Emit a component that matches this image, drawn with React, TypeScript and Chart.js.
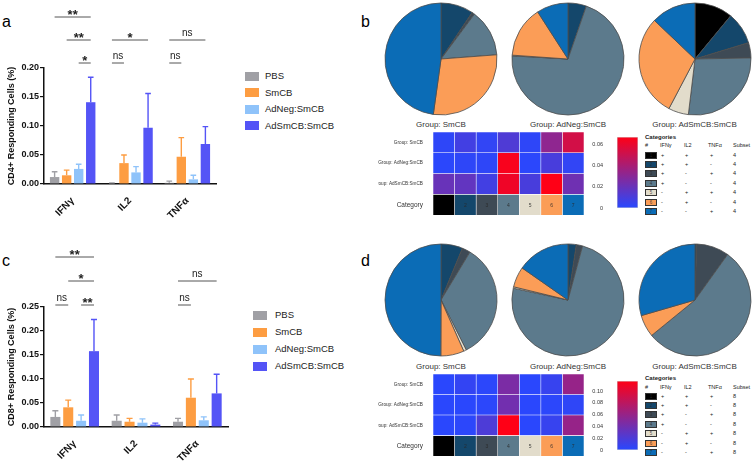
import React, { useEffect, useRef } from 'react';
import { Chart, registerables } from 'chart.js';

Chart.register(...registerables);

const FONT = '"Liberation Sans", Arial, Helvetica, sans-serif';
Chart.defaults.font.family = FONT;

// ---------------- data ----------------
const CYTOKINES = ['IFNγ', 'IL2', 'TNFα'];
const TREATMENTS = ['PBS', 'SmCB', 'AdNeg:SmCB', 'AdSmCB:SmCB'];
const TREATMENT_COLORS = ['#a0a0a5', '#fd9d42', '#8fc3fa', '#5454f6'];

const CD4_PBS = [0.012, 0.001, 0.002];
const CD4_SMCB = [0.015, 0.036, 0.047];
const CD4_ADNEG = [0.026, 0.02, 0.008];
const CD4_ADSMCB = [0.141, 0.097, 0.069];
const CD4_PBS_SEM = [0.009, 0.001, 0.003];
const CD4_SMCB_SEM = [0.009, 0.014, 0.033];
const CD4_ADNEG_SEM = [0.008, 0.01, 0.007];
const CD4_ADSMCB_SEM = [0.043, 0.059, 0.03];

const CD8_PBS = [0.021, 0.013, 0.011];
const CD8_SMCB = [0.041, 0.011, 0.061];
const CD8_ADNEG = [0.013, 0.009, 0.014];
const CD8_ADSMCB = [0.158, 0.005, 0.07];
const CD8_PBS_SEM = [0.013, 0.012, 0.007];
const CD8_SMCB_SEM = [0.015, 0.007, 0.039];
const CD8_ADNEG_SEM = [0.012, 0.008, 0.007];
const CD8_ADSMCB_SEM = [0.066, 0.003, 0.04];

const CD4_Y_MAX = 0.2;
const CD8_Y_MAX = 0.25;
const Y_STEP = 0.05;

// significance brackets: group index, from/to treatment index, stacking level
const CD4_SIGNIF = [
  { group: 0, from: 0, to: 3, level: 2, label: '**' },
  { group: 0, from: 1, to: 3, level: 1, label: '**' },
  { group: 0, from: 2, to: 3, level: 0, label: '*' },
  { group: 1, from: 0, to: 3, level: 1, label: '*' },
  { group: 1, from: 0, to: 1, level: 0, label: 'ns' },
  { group: 2, from: 0, to: 3, level: 1, label: 'ns' },
  { group: 2, from: 0, to: 1, level: 0, label: 'ns' },
];
const CD8_SIGNIF = [
  { group: 0, from: 0, to: 3, level: 2, label: '**' },
  { group: 0, from: 1, to: 3, level: 1, label: '*' },
  { group: 0, from: 0, to: 1, level: 0, label: 'ns' },
  { group: 0, from: 2, to: 3, level: 0, label: '**' },
  { group: 2, from: 0, to: 3, level: 1, label: 'ns' },
  { group: 2, from: 0, to: 1, level: 0, label: 'ns' },
];

const CATEGORY_IDS = ['1', '2', '3', '4', '5', '6', '7'];
const CATEGORY_COLORS = ['#000000', '#14476b', '#3e4a55', '#5c7a8c', '#e2dccb', '#fb9d57', '#0b6cb6'];
const CATEGORY_IFNG = ['+', '+', '+', '+', '-', '-', '-'];
const CATEGORY_IL2 = ['+', '+', '-', '-', '+', '+', '-'];
const CATEGORY_TNFA = ['+', '-', '+', '-', '+', '-', '+'];
const CD4_SUBSET = ['4', '4', '4', '4', '4', '4', '4'];
const CD8_SUBSET = ['8', '8', '8', '8', '8', '8', '8'];

const GROUP_LABELS = ['Group: SmCB', 'Group: AdNeg:SmCB', 'Group: AdSmCB:SmCB'];

const CD4_PIE_SMCB = [0, 0.094, 0.008, 0.136, 0, 0.284, 0.478];
const CD4_PIE_ADNEG = [0, 0.053, 0, 0.706, 0.002, 0.148, 0.091];
const CD4_PIE_ADSMCB = [0.11, 0.093, 0.044, 0.272, 0.058, 0.294, 0.129];
const CD8_PIE_SMCB = [0, 0.0625, 0.024, 0.339, 0.008, 0.067, 0.4995];
const CD8_PIE_ADNEG = [0, 0.024, 0.018, 0.742, 0.004, 0.059, 0.153];
const CD8_PIE_ADSMCB = [0, 0.005, 0.094, 0.542, 0, 0.064, 0.295];

const CD4_HEAT_SMCB = [0.002, 0.008, 0.003, 0.012, 0.002, 0.032, 0.053];
const CD4_HEAT_ADNEG = [0.001, 0.002, 0.002, 0.065, 0.001, 0.01, 0.003];
const CD4_HEAT_ADSMCB = [0.02, 0.018, 0.008, 0.062, 0.01, 0.068, 0.022];
const CD4_HEAT_MAX = 0.067;

const CD8_HEAT_SMCB = [0.001, 0.006, 0.002, 0.045, 0.001, 0.008, 0.06];
const CD8_HEAT_ADNEG = [0.001, 0.001, 0.002, 0.04, 0.001, 0.002, 0.004];
const CD8_HEAT_ADSMCB = [0.001, 0.002, 0.02, 0.117, 0.001, 0.008, 0.06];
const CD8_HEAT_MAX = 0.117;
const HEAT_STEP = 0.02;

// ---------------- helpers ----------------
const LOW = [40, 72, 255];
const HIGH = [255, 0, 22];
function heatColor(v: number, max: number) {
  const t = Math.max(0, Math.min(1, v / max));
  const c = LOW.map((l, i) => Math.round(l + (HIGH[i] - l) * t));
  return `rgb(${c[0]},${c[1]},${c[2]})`;
}

function ChartCanvas({ make, left, top, width, height }: any) {
  const ref = useRef<HTMLCanvasElement>(null);
  useEffect(() => {
    const chart = new Chart(ref.current as HTMLCanvasElement, make());
    return () => chart.destroy();
  }, []);
  return (
    <canvas
      ref={ref}
      width={width}
      height={height}
      style={{ position: 'absolute', left, top, width, height }}
    />
  );
}

function barConfig(opts: any) {
  const { means, sems, yMax, yTitle, signif, padding, xHeight, sigBase, sigStep } = opts;
  const errorPlugin = {
    id: 'errorBars',
    afterDatasetsDraw(chart: any) {
      const ctx = chart.ctx;
      const y = chart.scales.y;
      chart.data.datasets.forEach((ds: any, i: number) => {
        const meta = chart.getDatasetMeta(i);
        meta.data.forEach((bar: any, j: number) => {
          const top = y.getPixelForValue(ds.data[j] + sems[i][j]);
          const w = bar.width * 0.6;
          ctx.save();
          ctx.strokeStyle = ds.backgroundColor;
          ctx.lineWidth = 1.4;
          ctx.beginPath();
          ctx.moveTo(bar.x, bar.y);
          ctx.lineTo(bar.x, top);
          ctx.moveTo(bar.x - w / 2, top);
          ctx.lineTo(bar.x + w / 2, top);
          ctx.stroke();
          ctx.restore();
        });
      });
    },
  };
  const sigPlugin = {
    id: 'sigBrackets',
    afterDraw(chart: any) {
      const ctx = chart.ctx;
      const area = chart.chartArea;
      signif.forEach((s: any) => {
        const x1 = chart.getDatasetMeta(s.from).data[s.group].x;
        const x2 = chart.getDatasetMeta(s.to).data[s.group].x;
        const yl = area.top - sigBase - s.level * sigStep;
        ctx.save();
        ctx.strokeStyle = '#555';
        ctx.lineWidth = 1;
        ctx.beginPath();
        ctx.moveTo(x1, yl);
        ctx.lineTo(x2, yl);
        ctx.stroke();
        ctx.fillStyle = '#222';
        ctx.textAlign = 'center';
        ctx.textBaseline = 'alphabetic';
        if (s.label === 'ns') {
          ctx.font = `10px ${FONT}`;
          ctx.fillText('ns', (x1 + x2) / 2, yl - 4.5);
        } else {
          ctx.font = `bold 13px ${FONT}`;
          ctx.fillText(s.label, (x1 + x2) / 2, yl + 2);
        }
        ctx.restore();
      });
    },
  };
  return {
    type: 'bar',
    data: {
      labels: CYTOKINES,
      datasets: TREATMENTS.map((t, i) => ({
        label: t,
        data: means[i],
        backgroundColor: TREATMENT_COLORS[i],
        borderWidth: 0,
        barPercentage: 0.78,
        categoryPercentage: 0.84,
      })),
    },
    options: {
      responsive: false,
      animation: false,
      devicePixelRatio: 1,
      layout: { padding },
      plugins: { legend: { display: false }, tooltip: { enabled: false } },
      scales: {
        x: {
          grid: { display: false },
          border: { color: '#111', width: 1.5 },
          ticks: {
            color: '#111',
            font: { size: 10, weight: 'bold' },
            maxRotation: 45,
            minRotation: 45,
            padding: 3,
          },
          afterFit: (s: any) => {
            s.height = xHeight;
          },
        },
        y: {
          min: 0,
          max: yMax,
          grid: { drawOnChartArea: false, color: '#111', tickLength: 4, lineWidth: 1.2 },
          border: { color: '#111', width: 1.5 },
          ticks: {
            stepSize: Y_STEP,
            color: '#111',
            font: { size: 9, weight: 'bold' },
            padding: 1,
            callback: (v: any) => Number(v).toFixed(2),
          },
          title: {
            display: true,
            text: yTitle,
            color: '#111',
            font: { size: 9, weight: 'bold' },
            padding: { top: 6, bottom: 0 },
          },
          afterFit: (s: any) => {
            s.width = 44;
          },
        },
      },
    },
    plugins: [errorPlugin, sigPlugin],
  };
}

function pieConfig(values: number[]) {
  return {
    type: 'pie',
    data: {
      labels: CATEGORY_IDS,
      datasets: [
        {
          data: values,
          backgroundColor: CATEGORY_COLORS,
          borderColor: '#4d4d4d',
          borderWidth: 0.8,
          hoverOffset: 0,
          radius: 56,
        },
      ],
    },
    options: {
      responsive: false,
      animation: false,
      devicePixelRatio: 1,
      layout: { padding: 0 },
      plugins: { legend: { display: false }, tooltip: { enabled: false } },
    },
  };
}

function heatConfig(rows: number[][], max: number, padding: any) {
  const numPlugin = {
    id: 'catNumbers',
    afterDatasetsDraw(chart: any) {
      const ctx = chart.ctx;
      chart.data.datasets.forEach((ds: any, i: number) => {
        const el = chart.getDatasetMeta(i).data[3];
        const p = el.getCenterPoint();
        ctx.save();
        ctx.font = `5px ${FONT}`;
        ctx.fillStyle = i === 0 ? '#000' : 'rgba(40,40,40,0.85)';
        ctx.textAlign = 'center';
        ctx.textBaseline = 'middle';
        ctx.fillText(CATEGORY_IDS[i], p.x, p.y + 1);
        ctx.restore();
      });
    },
  };
  return {
    type: 'bar',
    data: {
      labels: [...GROUP_LABELS, 'Category'],
      datasets: CATEGORY_IDS.map((id, c) => ({
        label: id,
        data: [1, 1, 1, 1],
        backgroundColor: [
          heatColor(rows[0][c], max),
          heatColor(rows[1][c], max),
          heatColor(rows[2][c], max),
          CATEGORY_COLORS[c],
        ],
        borderColor: 'rgba(255,255,255,0.45)',
        borderWidth: 0.6,
        borderSkipped: false,
        barPercentage: 1,
        categoryPercentage: 1,
      })),
    },
    options: {
      indexAxis: 'y',
      responsive: false,
      animation: false,
      devicePixelRatio: 1,
      layout: { padding },
      plugins: { legend: { display: false }, tooltip: { enabled: false } },
      scales: {
        x: { stacked: true, display: false, min: 0, max: CATEGORY_IDS.length },
        y: {
          stacked: true,
          grid: { display: false },
          border: { display: false },
          ticks: {
            color: '#333',
            padding: 2,
            autoSkip: false,
            font: (ctx: any) => ({ size: ctx.index === 3 ? 6.5 : 4.7 }),
          },
          afterFit: (s: any) => {
            s.width = 55;
          },
        },
      },
    },
    plugins: [numPlugin],
  };
}

function colorbarConfig(max: number, padding: any) {
  return {
    type: 'bar',
    data: {
      labels: [''],
      datasets: [
        {
          data: [max],
          backgroundColor: (ctx: any) => {
            const a = ctx.chart.chartArea;
            if (!a) return heatColor(max / 2, max);
            const g = ctx.chart.ctx.createLinearGradient(0, a.bottom, 0, a.top);
            g.addColorStop(0, heatColor(0, max));
            g.addColorStop(1, heatColor(max, max));
            return g;
          },
          borderColor: '#d0d0d0',
          borderWidth: 0.8,
          borderSkipped: false,
          barPercentage: 1,
          categoryPercentage: 1,
        },
      ],
    },
    options: {
      responsive: false,
      animation: false,
      devicePixelRatio: 1,
      layout: { padding },
      plugins: { legend: { display: false }, tooltip: { enabled: false } },
      scales: {
        x: { display: false },
        y: {
          min: 0,
          max,
          grid: { display: false },
          border: { display: false },
          ticks: { stepSize: HEAT_STEP, includeBounds: false, color: '#333', font: { size: 5.5 }, padding: 6 },
          afterFit: (s: any) => {
            s.width = 27;
          },
        },
      },
    },
  };
}

function Txt({ x, cy, text, size, bold, align, color, width }: any) {
  const lh = Math.round(size * 1.25);
  const style: any = {
    position: 'absolute',
    top: cy - lh / 2,
    height: lh,
    lineHeight: lh + 'px',
    fontSize: size,
    fontWeight: bold ? 'bold' : 'normal',
    color: color || '#222',
    whiteSpace: 'nowrap',
  };
  if (align === 'center') {
    style.left = x - (width || 120) / 2;
    style.width = width || 120;
    style.textAlign = 'center';
  } else {
    style.left = x;
  }
  return <div style={style}>{text}</div>;
}

function BarLegend({ x, tx, cys, size }: any) {
  return (
    <>
      {TREATMENTS.map((t, i) => (
        <React.Fragment key={t}>
          <div
            style={{
              position: 'absolute',
              left: x,
              top: cys[i] - 4.5,
              width: 14,
              height: 9,
              background: TREATMENT_COLORS[i],
            }}
          />
          <Txt x={tx} cy={cys[i]} text={t} size={size} color="#222" />
        </React.Fragment>
      ))}
    </>
  );
}

function CategoryTable({ titleY, headerY, rowY, subset }: any) {
  const step = 9.45;
  return (
    <>
      <Txt x={645} cy={titleY} text="Categories" size={6} bold />
      <Txt x={645} cy={headerY} text="#" size={5.5} />
      <Txt x={660} cy={headerY} text="IFNγ" size={5.5} />
      <Txt x={684} cy={headerY} text="IL2" size={5.5} />
      <Txt x={708} cy={headerY} text="TNFα" size={5.5} />
      <Txt x={733} cy={headerY} text="Subset" size={5.5} />
      {CATEGORY_IDS.map((id, i) => {
        const cy = rowY + i * step;
        return (
          <React.Fragment key={id}>
            <div
              style={{
                position: 'absolute',
                left: 645,
                top: cy - 3.5,
                width: 12,
                height: 7,
                background: CATEGORY_COLORS[i],
                border: '0.5px solid #333',
                boxSizing: 'border-box',
                fontSize: 4.5,
                lineHeight: '6px',
                textAlign: 'center',
                color: 'rgba(40,40,40,0.8)',
              }}
            >
              {id}
            </div>
            <Txt x={661} cy={cy} text={CATEGORY_IFNG[i]} size={5.5} />
            <Txt x={685} cy={cy} text={CATEGORY_IL2[i]} size={5.5} />
            <Txt x={710} cy={cy} text={CATEGORY_TNFA[i]} size={5.5} />
            <Txt x={733} cy={cy} text={subset[i]} size={5.5} />
          </React.Fragment>
        );
      })}
    </>
  );
}

const PIE_X = [441, 568, 694.5];

export default function App() {
  const cd4Means = [CD4_PBS, CD4_SMCB, CD4_ADNEG, CD4_ADSMCB];
  const cd4Sems = [CD4_PBS_SEM, CD4_SMCB_SEM, CD4_ADNEG_SEM, CD4_ADSMCB_SEM];
  const cd8Means = [CD8_PBS, CD8_SMCB, CD8_ADNEG, CD8_ADSMCB];
  const cd8Sems = [CD8_PBS_SEM, CD8_SMCB_SEM, CD8_ADNEG_SEM, CD8_ADSMCB_SEM];
  const cd4Pies = [CD4_PIE_SMCB, CD4_PIE_ADNEG, CD4_PIE_ADSMCB];
  const cd8Pies = [CD8_PIE_SMCB, CD8_PIE_ADNEG, CD8_PIE_ADSMCB];

  return (
    <div
      style={{
        position: 'absolute',
        left: 0,
        top: 0,
        width: 752,
        height: 461,
        overflow: 'hidden',
        background: '#fff',
        fontFamily: FONT,
      }}
    >
      {/* panel letters */}
      <div style={{ position: 'absolute', left: 2, top: 14, fontSize: 16, lineHeight: '16px' }}>a</div>
      <div style={{ position: 'absolute', left: 361, top: 14, fontSize: 16, lineHeight: '16px' }}>b</div>
      <div style={{ position: 'absolute', left: 2, top: 253, fontSize: 16, lineHeight: '16px' }}>c</div>
      <div style={{ position: 'absolute', left: 361, top: 253, fontSize: 16, lineHeight: '16px' }}>d</div>

      {/* panel a */}
      <ChartCanvas
        left={0}
        top={0}
        width={240}
        height={225}
        make={() =>
          barConfig({
            means: cd4Means,
            sems: cd4Sems,
            yMax: CD4_Y_MAX,
            yTitle: 'CD4+ Responding Cells (%)',
            signif: CD4_SIGNIF,
            padding: { top: 68, right: 24, left: 0, bottom: 0 },
            xHeight: 41,
            sigBase: 5,
            sigStep: 23,
          })
        }
      />
      <BarLegend x={245} tx={265} cys={[76, 92.5, 109, 125.5]} size={9.5} />

      {/* panel c */}
      <ChartCanvas
        left={0}
        top={230}
        width={240}
        height={231}
        make={() =>
          barConfig({
            means: cd8Means,
            sems: cd8Sems,
            yMax: CD8_Y_MAX,
            yTitle: 'CD8+ Responding Cells (%)',
            signif: CD8_SIGNIF,
            padding: { top: 77, right: 12, left: 0, bottom: 0 },
            xHeight: 34,
            sigBase: 2,
            sigStep: 24,
          })
        }
      />
      <BarLegend x={253} tx={275} cys={[315, 332, 349, 366]} size={9.5} />

      {/* panel b pies */}
      {cd4Pies.map((vals, i) => (
        <ChartCanvas key={'b' + i} left={PIE_X[i] - 60} top={58.5 - 60} width={120} height={120} make={() => pieConfig(vals)} />
      ))}
      {GROUP_LABELS.map((g, i) => (
        <Txt key={'bt' + i} x={PIE_X[i]} cy={125} text={g} size={8} align="center" color="#333" />
      ))}
      <ChartCanvas
        left={378}
        top={125}
        width={208}
        height={95}
        make={() => heatConfig([CD4_HEAT_SMCB, CD4_HEAT_ADNEG, CD4_HEAT_ADSMCB], CD4_HEAT_MAX, { top: 7, bottom: 3, left: 0, right: 2 })}
      />
      <ChartCanvas
        left={590}
        top={125}
        width={52}
        height={95}
        make={() => colorbarConfig(CD4_HEAT_MAX, { top: 12, bottom: 12, left: 0, right: 4 })}
      />
      <CategoryTable titleY={137} headerY={145.5} rowY={155} subset={CD4_SUBSET} />

      {/* panel d pies */}
      {cd8Pies.map((vals, i) => (
        <ChartCanvas key={'d' + i} left={PIE_X[i] - 60} top={300.3 - 60} width={120} height={120} make={() => pieConfig(vals)} />
      ))}
      {GROUP_LABELS.map((g, i) => (
        <Txt key={'dt' + i} x={PIE_X[i]} cy={367} text={g} size={8} align="center" color="#333" />
      ))}
      <ChartCanvas
        left={378}
        top={368}
        width={208}
        height={93}
        make={() => heatConfig([CD8_HEAT_SMCB, CD8_HEAT_ADNEG, CD8_HEAT_ADSMCB], CD8_HEAT_MAX, { top: 6, bottom: 2, left: 0, right: 2 })}
      />
      <ChartCanvas
        left={590}
        top={370}
        width={52}
        height={91}
        make={() => colorbarConfig(CD8_HEAT_MAX, { top: 11, bottom: 11, left: 0, right: 4 })}
      />
      <CategoryTable titleY={378.3} headerY={387} rowY={396} subset={CD8_SUBSET} />
    </div>
  );
}
